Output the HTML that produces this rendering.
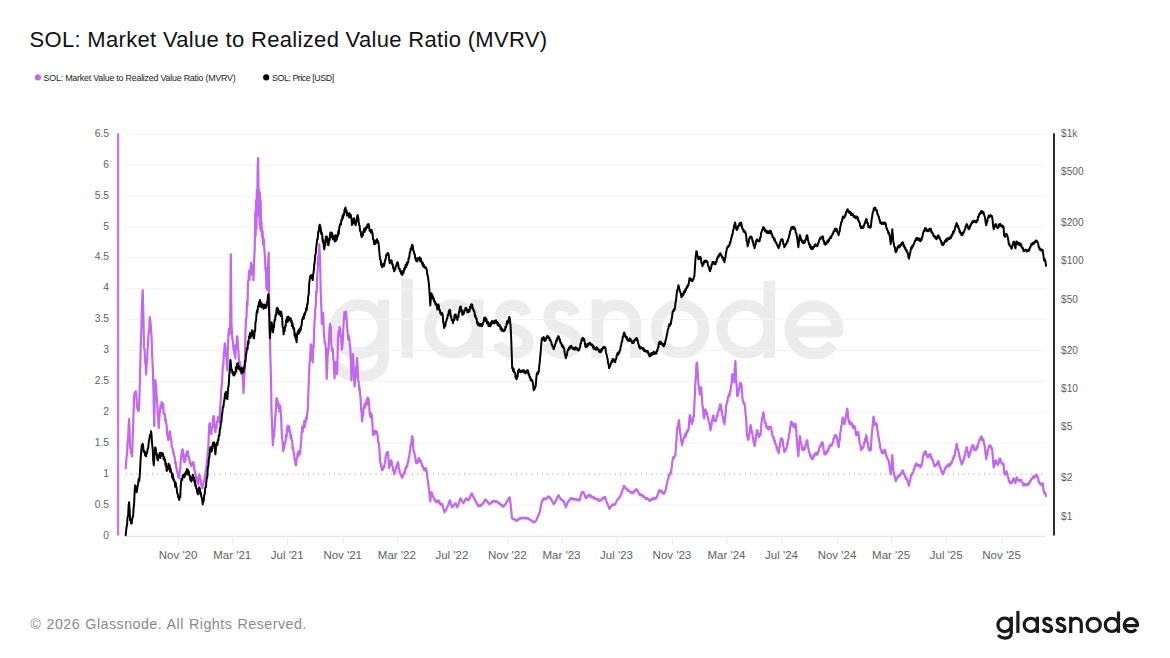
<!DOCTYPE html>
<html><head><meta charset="utf-8"><title>SOL: MVRV</title>
<style>html,body{margin:0;padding:0;background:#fff;}body{width:1170px;height:658px;overflow:hidden;position:relative;font-family:"Liberation Sans",sans-serif;}
svg{position:absolute;left:0;top:0;}text{font-family:"Liberation Sans",sans-serif;}
.t{position:absolute;white-space:nowrap;line-height:1;}
</style></head><body>
<svg width="1170" height="658" viewBox="0 0 1170 658">
<rect width="1170" height="658" fill="#ffffff"/>
<defs><g id="lg" fill="none" stroke-width="3.2" stroke-linecap="butt" stroke-linejoin="round">
<circle cx="1004.6" cy="624.9" r="6.7"/>
<path d="M1011.3 616.7 V632.6 C1011.3 636.6 1008.6 638.1 1004.9 638.1 C1001.9 638.1 999.6 637 998.3 635.0"/>
<path d="M1017.9 610.9 V632.9"/>
<circle cx="1030.8" cy="624.9" r="6.6"/>
<path d="M1037.4 616.7 V632.9"/>
<path id="ls" d="M1051.0 620.9 C1050.4 619.2 1049 618.3 1047.3 618.3 C1045.2 618.3 1043.9 619.6 1043.9 621.3 C1043.9 623.3 1045.4 624.1 1047.5 624.8 C1049.8 625.5 1051.5 626.4 1051.5 628.4 C1051.5 630.3 1049.8 631.5 1047.5 631.5 C1045.4 631.5 1043.8 630.5 1043.2 628.8"/>
<use href="#ls" x="13.4"/>
<path d="M1070.7 616.7 V632.9 M1070.7 623.8 C1070.7 620.4 1073 618.3 1076 618.3 C1079 618.3 1081.3 620.4 1081.3 623.8 V632.9"/>
<circle cx="1093.7" cy="624.9" r="6.6"/>
<circle cx="1111.9" cy="624.9" r="6.6"/>
<path d="M1118.5 611.5 V632.9"/>
<path d="M1124.6 625.6 H1137.5 A6.6 6.6 0 1 0 1136.1 629.2"/>
</g></defs>
<use href="#lg" stroke="#ececec" transform="translate(-3257.24 -1920.54) scale(3.6)"/>
<line x1="125.5" x2="1045.5" y1="505.0" y2="505.0" stroke="#f0f2f5" stroke-width="1"/>
<line x1="125.5" x2="1045.5" y1="443.2" y2="443.2" stroke="#f0f2f5" stroke-width="1"/>
<line x1="125.5" x2="1045.5" y1="412.3" y2="412.3" stroke="#f0f2f5" stroke-width="1"/>
<line x1="125.5" x2="1045.5" y1="381.4" y2="381.4" stroke="#f0f2f5" stroke-width="1"/>
<line x1="125.5" x2="1045.5" y1="350.5" y2="350.5" stroke="#f0f2f5" stroke-width="1"/>
<line x1="125.5" x2="1045.5" y1="319.6" y2="319.6" stroke="#f0f2f5" stroke-width="1"/>
<line x1="125.5" x2="1045.5" y1="288.7" y2="288.7" stroke="#f0f2f5" stroke-width="1"/>
<line x1="125.5" x2="1045.5" y1="257.8" y2="257.8" stroke="#f0f2f5" stroke-width="1"/>
<line x1="125.5" x2="1045.5" y1="226.9" y2="226.9" stroke="#f0f2f5" stroke-width="1"/>
<line x1="125.5" x2="1045.5" y1="196.0" y2="196.0" stroke="#f0f2f5" stroke-width="1"/>
<line x1="125.5" x2="1045.5" y1="165.1" y2="165.1" stroke="#f0f2f5" stroke-width="1"/>
<line x1="125.5" x2="1045.5" y1="134.2" y2="134.2" stroke="#f0f2f5" stroke-width="1"/>
<line x1="126" x2="1045.5" y1="474.1" y2="474.1" stroke="#909090" stroke-width="1" stroke-dasharray="1 4.2"/>
<line x1="125.5" x2="1045.5" y1="536.4" y2="536.4" stroke="#e3e6ee" stroke-width="1.4"/>
<line x1="178.6" x2="178.6" y1="536.2" y2="544.4" stroke="#e8ebf1" stroke-width="1"/>
<text x="178.1" y="559" font-size="11.5" fill="#5f5f5f" text-anchor="middle">Nov '20</text>
<line x1="232.7" x2="232.7" y1="536.2" y2="544.4" stroke="#e8ebf1" stroke-width="1"/>
<text x="232.2" y="559" font-size="11.5" fill="#5f5f5f" text-anchor="middle">Mar '21</text>
<line x1="287.7" x2="287.7" y1="536.2" y2="544.4" stroke="#e8ebf1" stroke-width="1"/>
<text x="287.2" y="559" font-size="11.5" fill="#5f5f5f" text-anchor="middle">Jul '21</text>
<line x1="343.2" x2="343.2" y1="536.2" y2="544.4" stroke="#e8ebf1" stroke-width="1"/>
<text x="342.7" y="559" font-size="11.5" fill="#5f5f5f" text-anchor="middle">Nov '21</text>
<line x1="397.3" x2="397.3" y1="536.2" y2="544.4" stroke="#e8ebf1" stroke-width="1"/>
<text x="396.8" y="559" font-size="11.5" fill="#5f5f5f" text-anchor="middle">Mar '22</text>
<line x1="452.4" x2="452.4" y1="536.2" y2="544.4" stroke="#e8ebf1" stroke-width="1"/>
<text x="451.9" y="559" font-size="11.5" fill="#5f5f5f" text-anchor="middle">Jul '22</text>
<line x1="507.8" x2="507.8" y1="536.2" y2="544.4" stroke="#e8ebf1" stroke-width="1"/>
<text x="507.3" y="559" font-size="11.5" fill="#5f5f5f" text-anchor="middle">Nov '22</text>
<line x1="562.0" x2="562.0" y1="536.2" y2="544.4" stroke="#e8ebf1" stroke-width="1"/>
<text x="561.5" y="559" font-size="11.5" fill="#5f5f5f" text-anchor="middle">Mar '23</text>
<line x1="617.0" x2="617.0" y1="536.2" y2="544.4" stroke="#e8ebf1" stroke-width="1"/>
<text x="616.5" y="559" font-size="11.5" fill="#5f5f5f" text-anchor="middle">Jul '23</text>
<line x1="672.4" x2="672.4" y1="536.2" y2="544.4" stroke="#e8ebf1" stroke-width="1"/>
<text x="671.9" y="559" font-size="11.5" fill="#5f5f5f" text-anchor="middle">Nov '23</text>
<line x1="727.0" x2="727.0" y1="536.2" y2="544.4" stroke="#e8ebf1" stroke-width="1"/>
<text x="726.5" y="559" font-size="11.5" fill="#5f5f5f" text-anchor="middle">Mar '24</text>
<line x1="782.0" x2="782.0" y1="536.2" y2="544.4" stroke="#e8ebf1" stroke-width="1"/>
<text x="781.5" y="559" font-size="11.5" fill="#5f5f5f" text-anchor="middle">Jul '24</text>
<line x1="837.5" x2="837.5" y1="536.2" y2="544.4" stroke="#e8ebf1" stroke-width="1"/>
<text x="837.0" y="559" font-size="11.5" fill="#5f5f5f" text-anchor="middle">Nov '24</text>
<line x1="891.6" x2="891.6" y1="536.2" y2="544.4" stroke="#e8ebf1" stroke-width="1"/>
<text x="891.1" y="559" font-size="11.5" fill="#5f5f5f" text-anchor="middle">Mar '25</text>
<line x1="946.7" x2="946.7" y1="536.2" y2="544.4" stroke="#e8ebf1" stroke-width="1"/>
<text x="946.2" y="559" font-size="11.5" fill="#5f5f5f" text-anchor="middle">Jul '25</text>
<line x1="1002.1" x2="1002.1" y1="536.2" y2="544.4" stroke="#e8ebf1" stroke-width="1"/>
<text x="1001.6" y="559" font-size="11.5" fill="#5f5f5f" text-anchor="middle">Nov '25</text>
<text x="109" y="539.0" font-size="10.3" fill="#5f5f5f" text-anchor="end">0</text>
<text x="109" y="508.1" font-size="10.3" fill="#5f5f5f" text-anchor="end">0.5</text>
<text x="109" y="477.1" font-size="10.3" fill="#5f5f5f" text-anchor="end">1</text>
<text x="109" y="446.1" font-size="10.3" fill="#5f5f5f" text-anchor="end">1.5</text>
<text x="109" y="415.2" font-size="10.3" fill="#5f5f5f" text-anchor="end">2</text>
<text x="109" y="384.2" font-size="10.3" fill="#5f5f5f" text-anchor="end">2.5</text>
<text x="109" y="353.3" font-size="10.3" fill="#5f5f5f" text-anchor="end">3</text>
<text x="109" y="322.4" font-size="10.3" fill="#5f5f5f" text-anchor="end">3.5</text>
<text x="109" y="291.4" font-size="10.3" fill="#5f5f5f" text-anchor="end">4</text>
<text x="109" y="260.4" font-size="10.3" fill="#5f5f5f" text-anchor="end">4.5</text>
<text x="109" y="229.5" font-size="10.3" fill="#5f5f5f" text-anchor="end">5</text>
<text x="109" y="198.5" font-size="10.3" fill="#5f5f5f" text-anchor="end">5.5</text>
<text x="109" y="167.6" font-size="10.3" fill="#5f5f5f" text-anchor="end">6</text>
<text x="109" y="136.7" font-size="10.3" fill="#5f5f5f" text-anchor="end">6.5</text>
<text x="1061" y="136.8" font-size="10.2" fill="#5f5f5f">$1k</text>
<text x="1061" y="175.2" font-size="10.2" fill="#5f5f5f">$500</text>
<text x="1061" y="225.9" font-size="10.2" fill="#5f5f5f">$200</text>
<text x="1061" y="264.3" font-size="10.2" fill="#5f5f5f">$100</text>
<text x="1061" y="302.7" font-size="10.2" fill="#5f5f5f">$50</text>
<text x="1061" y="353.5" font-size="10.2" fill="#5f5f5f">$20</text>
<text x="1061" y="391.9" font-size="10.2" fill="#5f5f5f">$10</text>
<text x="1061" y="430.3" font-size="10.2" fill="#5f5f5f">$5</text>
<text x="1061" y="481.1" font-size="10.2" fill="#5f5f5f">$2</text>
<text x="1061" y="519.5" font-size="10.2" fill="#5f5f5f">$1</text>
<path d="M125.7 468.3 L126.4 459.0 L127.1 452.3 L127.6 442.9 L128.1 438.3 L128.6 426.4 L129.1 419.2 L129.6 431.5 L130.1 448.3 L130.6 448.8 L131.1 453.1 L131.6 452.6 L132.1 456.3 L132.6 440.4 L133.1 428.3 L133.6 409.9 L134.1 396.1 L134.6 392.9 L135.2 395.5 L135.7 391.1 L136.4 395.6 L137.1 408.1 L137.6 407.1 L138.1 410.9 L138.5 406.5 L139.0 410.1 L139.9 382.0 L140.6 350.1 L141.3 330.0 L142.0 304.8 L142.7 290.1 L143.4 315.2 L144.1 348.3 L144.6 348.8 L145.1 363.0 L145.6 362.8 L146.1 374.4 L146.6 364.4 L147.1 361.8 L147.5 350.2 L148.0 345.0 L148.6 332.5 L149.1 332.6 L149.7 317.2 L150.4 321.0 L151.1 330.3 L151.6 337.8 L152.1 354.4 L152.7 365.1 L153.3 384.0 L154.2 426.0 L154.7 400.6 L155.2 380.0 L155.9 384.7 L156.6 396.1 L157.2 402.8 L157.7 413.4 L158.2 418.6 L158.8 428.2 L159.5 415.1 L160.2 408.1 L160.7 404.6 L161.2 408.2 L161.6 402.0 L162.1 406.7 L162.6 403.1 L163.1 404.7 L163.7 414.0 L164.2 414.1 L164.7 413.5 L165.2 420.9 L165.7 419.0 L166.2 424.2 L166.7 425.8 L167.2 435.4 L167.7 433.5 L168.2 440.2 L168.7 435.6 L169.3 437.6 L169.8 431.2 L170.3 433.5 L170.8 439.9 L171.2 438.8 L171.7 446.0 L172.2 448.3 L172.7 448.5 L173.2 453.1 L173.7 452.2 L174.2 456.3 L174.7 456.8 L175.2 463.3 L175.7 462.1 L176.2 468.1 L176.7 467.9 L177.2 472.3 L177.7 472.4 L178.2 476.8 L178.7 475.7 L179.2 478.4 L179.7 471.0 L180.2 469.6 L180.7 460.3 L181.2 456.3 L181.9 450.7 L182.6 449.3 L183.2 452.8 L183.7 460.0 L184.3 462.3 L184.8 458.6 L185.3 461.2 L185.8 454.5 L186.3 456.2 L186.8 451.6 L187.3 451.3 L187.8 451.4 L188.3 456.5 L188.8 456.5 L189.3 460.3 L189.8 460.9 L190.3 464.1 L190.8 464.1 L191.3 466.3 L191.8 463.3 L192.3 465.1 L192.8 462.2 L193.3 462.3 L193.8 464.0 L194.3 470.4 L194.8 470.6 L195.3 474.3 L195.8 474.8 L196.3 479.0 L196.8 477.6 L197.3 482.6 L197.8 481.1 L198.3 484.4 L198.8 478.5 L199.3 474.3 L199.8 475.5 L200.3 480.0 L200.8 479.7 L201.3 485.4 L201.8 485.4 L202.3 488.4 L202.8 485.8 L203.3 485.1 L203.8 481.6 L204.3 480.4 L204.8 476.2 L205.3 475.8 L205.8 470.3 L206.3 468.3 L206.8 462.7 L207.3 459.8 L207.8 451.8 L208.3 448.3 L208.8 434.0 L209.3 424.2 L209.8 423.1 L210.3 432.0 L210.8 429.4 L211.3 434.2 L211.8 427.1 L212.4 428.0 L212.9 419.5 L213.4 416.1 L213.9 416.5 L214.4 427.3 L214.9 424.9 L215.4 432.2 L215.9 426.1 L216.4 428.2 L217.0 421.1 L217.5 421.5 L218.0 417.2 L218.7 416.8 L219.4 422.2 L220.1 408.9 L220.8 398.1 L221.3 388.6 L221.9 384.2 L222.4 374.0 L222.9 365.7 L223.4 364.7 L223.8 353.8 L224.3 351.0 L224.8 343.3 L225.3 346.4 L225.8 356.2 L226.4 356.4 L226.9 366.5 L227.4 370.4 L227.9 347.1 L228.4 335.0 L229.0 328.5 L229.5 334.4 L230.1 330.3 L230.8 254.4 L231.5 325.0 L232.4 340.0 L232.9 340.2 L233.4 349.4 L233.9 345.9 L234.4 354.4 L234.9 349.9 L235.4 358.4 L235.9 344.8 L236.5 347.6 L237.0 336.3 L237.5 337.5 L238.0 348.8 L238.4 349.9 L238.9 360.3 L239.4 362.4 L239.9 361.8 L240.4 371.4 L240.9 366.3 L241.5 371.9 L242.0 367.0 L242.5 374.4 L243.0 380.4 L243.5 393.1 L244.1 380.7 L244.6 372.0 L245.5 332.3 L246.0 318.9 L246.5 316.9 L247.0 301.2 L247.5 305.5 L248.0 281.3 L248.5 280.1 L249.0 271.3 L249.5 280.0 L250.0 269.4 L250.6 275.5 L251.1 262.6 L251.6 274.0 L252.1 266.1 L252.8 265.6 L253.5 280.1 L254.1 260.0 L254.7 249.0 L255.3 212.0 L255.6 236.0 L256.0 200.0 L256.4 229.0 L256.8 190.0 L257.2 216.0 L257.6 170.0 L258.1 158.1 L258.5 186.0 L258.9 216.0 L259.2 190.2 L259.6 225.0 L259.9 193.0 L260.3 229.0 L260.7 201.0 L261.0 231.0 L261.5 222.0 L262.0 237.0 L262.6 231.0 L263.2 245.0 L263.8 239.0 L264.4 250.0 L264.9 256.1 L265.5 270.1 L266.0 267.5 L266.5 288.7 L267.0 277.5 L267.5 290.1 L268.1 263.7 L268.7 252.7 L269.3 310.2 L269.8 326.3 L270.3 354.4 L271.0 378.4 L271.5 411.1 L272.1 425.3 L272.8 445.3 L273.4 438.2 L274.0 436.1 L274.6 428.2 L275.1 418.7 L275.6 414.3 L276.1 404.4 L276.6 398.1 L277.1 398.5 L277.6 405.1 L278.1 402.2 L278.6 408.1 L279.1 404.4 L279.6 411.6 L280.1 405.5 L280.6 410.1 L281.1 415.5 L281.7 432.4 L282.2 438.2 L282.7 443.1 L283.2 451.3 L283.7 447.9 L284.2 448.1 L284.6 443.4 L285.1 443.7 L285.6 440.2 L286.1 434.5 L286.6 436.9 L287.1 427.3 L287.6 427.2 L288.1 425.7 L288.6 431.4 L289.1 426.4 L289.6 430.2 L290.1 431.6 L290.6 437.8 L291.1 434.6 L291.6 440.2 L292.1 440.6 L292.6 448.7 L293.1 447.5 L293.6 452.3 L294.1 453.8 L294.6 459.7 L295.0 458.8 L295.5 464.8 L296.0 465.3 L296.5 458.8 L297.1 458.8 L297.6 453.3 L298.1 451.8 L298.6 456.0 L299.2 451.1 L299.7 454.4 L300.2 453.3 L300.7 445.2 L301.2 440.4 L301.7 432.2 L302.2 427.1 L302.7 431.8 L303.2 425.6 L303.7 425.2 L304.2 421.2 L304.7 427.5 L305.2 420.1 L305.7 422.2 L306.2 417.4 L306.7 419.3 L307.2 412.4 L307.7 411.1 L308.3 394.3 L308.9 380.0 L309.5 362.5 L310.1 360.7 L310.7 344.3 L311.2 344.7 L311.7 359.2 L312.2 354.4 L312.7 362.4 L313.2 346.2 L313.7 347.1 L314.2 327.9 L314.7 320.2 L315.2 308.5 L315.7 307.2 L316.2 291.6 L316.7 292.6 L317.2 274.6 L317.7 270.1 L318.2 256.3 L318.8 256.3 L319.3 244.4 L320.0 258.7 L320.7 290.1 L321.2 303.0 L321.8 324.0 L322.5 314.0 L323.1 312.8 L323.9 334.0 L324.8 343.0 L325.4 343.1 L326.0 352.0 L326.7 379.0 L327.6 358.0 L328.1 348.3 L328.6 350.0 L329.5 328.2 L330.1 323.8 L330.8 327.4 L331.2 343.0 L332.1 351.0 L332.7 348.7 L333.3 358.0 L333.9 364.6 L334.5 378.4 L335.0 366.5 L335.5 362.0 L336.3 368.0 L337.0 374.0 L337.6 356.0 L338.0 338.5 L338.5 331.7 L339.0 335.4 L339.5 327.0 L340.0 328.6 L340.6 334.0 L341.2 339.2 L341.9 349.6 L342.7 342.7 L343.2 330.1 L343.8 321.0 L344.3 312.2 L344.8 318.8 L345.3 313.5 L346.0 311.6 L346.6 318.8 L347.4 330.0 L348.3 340.0 L349.0 336.1 L349.6 342.7 L350.4 349.6 L350.9 362.0 L351.4 380.3 L351.9 369.5 L352.5 365.8 L353.0 354.2 L353.5 361.9 L354.1 379.1 L354.6 386.3 L355.1 379.3 L355.6 377.9 L356.1 367.6 L356.6 365.9 L357.1 358.2 L357.6 365.7 L358.1 380.3 L358.6 381.3 L359.1 389.9 L359.6 387.7 L360.1 394.3 L360.6 397.8 L361.1 409.8 L361.6 412.4 L362.1 421.4 L362.6 415.7 L363.1 415.9 L363.6 407.6 L364.1 406.4 L364.6 403.9 L365.1 407.6 L365.6 402.8 L366.1 404.4 L366.6 399.9 L367.1 404.7 L367.5 397.6 L368.0 402.9 L368.5 398.3 L369.0 402.8 L369.6 412.6 L370.1 416.4 L370.6 412.7 L371.2 417.8 L371.7 414.4 L372.4 423.7 L373.1 435.0 L373.6 433.1 L374.1 434.6 L374.6 431.3 L375.1 431.1 L375.6 430.7 L376.1 433.4 L376.6 431.3 L377.1 434.1 L377.6 434.9 L378.1 442.4 L378.6 442.2 L379.1 446.1 L379.6 452.5 L380.1 462.2 L380.6 462.8 L381.1 466.8 L381.6 466.6 L382.1 470.2 L382.6 467.8 L383.1 469.4 L383.7 466.2 L384.2 467.2 L384.7 463.2 L385.2 462.4 L385.7 456.2 L386.2 455.2 L386.7 452.3 L387.3 453.9 L387.8 452.1 L388.5 459.0 L389.2 468.2 L389.7 465.0 L390.2 465.1 L390.7 461.4 L391.2 460.2 L391.7 461.6 L392.2 466.3 L392.7 466.7 L393.2 470.7 L393.7 470.9 L394.2 474.2 L394.7 472.3 L395.2 472.0 L395.7 468.5 L396.2 468.2 L396.7 465.1 L397.3 464.8 L397.8 462.2 L398.3 463.1 L398.8 469.2 L399.3 468.8 L399.8 473.2 L400.4 473.5 L400.9 475.5 L401.5 475.2 L402.0 477.7 L402.6 477.2 L403.1 475.1 L403.6 475.0 L404.2 472.1 L404.7 473.2 L405.2 470.2 L405.7 467.4 L406.2 468.3 L406.7 465.5 L407.2 466.6 L407.7 462.3 L408.2 462.2 L408.7 457.6 L409.2 456.8 L409.7 452.5 L410.2 450.1 L410.7 444.8 L411.2 444.5 L411.7 438.8 L412.2 436.1 L412.8 439.1 L413.3 448.4 L413.9 452.1 L414.4 452.5 L414.9 457.2 L415.3 457.0 L415.8 461.6 L416.3 463.2 L416.8 460.8 L417.3 463.0 L417.8 460.2 L418.3 461.8 L418.8 458.0 L419.3 459.2 L419.8 459.3 L420.3 461.9 L420.8 461.0 L421.3 463.2 L421.8 463.6 L422.3 466.1 L422.8 466.0 L423.3 468.4 L423.8 468.3 L424.3 470.2 L424.8 469.1 L425.3 470.5 L425.8 468.0 L426.3 469.2 L426.8 472.2 L427.3 477.7 L427.8 480.0 L428.3 484.3 L428.8 487.9 L429.3 493.1 L429.8 496.6 L430.3 501.3 L430.8 496.5 L431.3 492.3 L431.8 492.7 L432.3 495.5 L432.8 495.6 L433.3 497.3 L433.8 497.5 L434.3 499.9 L434.8 499.5 L435.3 501.4 L435.8 501.0 L436.3 502.3 L436.8 501.2 L437.3 502.1 L437.8 500.3 L438.3 500.3 L438.8 500.7 L439.3 503.0 L439.8 502.5 L440.3 504.3 L440.8 503.9 L441.3 505.0 L441.8 503.7 L442.3 504.3 L442.8 505.8 L443.4 508.7 L443.9 510.0 L444.4 512.4 L444.9 511.4 L445.4 510.9 L445.9 509.6 L446.4 509.6 L446.9 507.8 L447.4 507.3 L447.9 505.6 L448.4 504.8 L448.8 502.3 L449.3 502.5 L449.8 500.3 L450.4 501.6 L450.9 504.1 L451.4 505.3 L452.0 507.3 L452.5 506.5 L453.0 506.5 L453.5 505.4 L453.9 505.3 L454.4 504.2 L454.9 504.4 L455.4 503.3 L455.9 503.7 L456.4 505.7 L456.9 506.1 L457.4 507.3 L457.9 505.3 L458.4 504.6 L458.9 502.5 L459.4 501.5 L459.9 499.5 L460.4 498.3 L460.9 498.7 L461.4 500.4 L461.9 500.5 L462.4 502.0 L462.9 502.3 L463.4 503.3 L463.9 502.0 L464.4 501.5 L465.0 499.9 L465.5 499.5 L466.0 498.3 L466.5 498.5 L467.0 499.4 L467.4 499.2 L467.9 500.3 L468.4 500.3 L468.9 498.9 L469.4 498.9 L469.9 496.8 L470.3 496.9 L470.8 494.6 L471.3 494.7 L471.8 493.3 L472.4 494.2 L473.0 496.5 L473.5 496.8 L474.1 498.3 L474.6 498.7 L475.1 500.6 L475.6 500.8 L476.1 502.4 L476.5 502.2 L477.0 504.1 L477.5 504.1 L478.0 505.9 L478.5 506.3 L479.0 505.9 L479.5 506.1 L480.0 505.2 L480.5 505.8 L481.0 504.6 L481.5 505.3 L482.0 504.2 L482.5 504.3 L483.0 502.9 L483.5 503.1 L484.0 501.3 L484.5 501.2 L485.0 500.0 L485.5 499.3 L486.0 499.7 L486.5 500.9 L487.0 501.0 L487.5 502.3 L488.0 502.0 L488.5 503.5 L489.0 503.3 L489.5 504.3 L490.0 503.4 L490.5 503.7 L491.0 502.6 L491.5 502.8 L492.0 501.3 L492.5 501.3 L493.0 500.9 L493.5 501.7 L494.0 500.8 L494.5 501.5 L495.0 500.8 L495.5 501.6 L496.0 501.1 L496.5 501.3 L497.0 501.4 L497.5 502.5 L498.0 502.2 L498.5 503.3 L499.0 502.6 L499.5 503.9 L500.0 503.6 L500.5 504.3 L501.0 504.4 L501.5 505.5 L502.1 505.0 L502.6 506.3 L503.1 505.9 L503.6 506.7 L504.1 505.8 L504.6 505.4 L505.1 504.3 L505.6 504.2 L506.1 502.8 L506.6 502.3 L507.1 501.0 L507.6 500.8 L508.1 499.6 L508.6 499.3 L509.1 497.6 L509.6 497.3 L510.1 500.3 L510.6 504.3 L511.3 511.0 L512.0 518.4 L512.5 518.4 L513.0 519.1 L513.6 518.7 L514.1 519.5 L514.6 519.4 L515.1 519.5 L515.6 520.4 L516.0 520.0 L516.5 521.0 L517.0 520.8 L517.5 519.8 L518.0 520.0 L518.6 519.1 L519.1 519.3 L519.6 518.4 L520.1 517.9 L520.6 518.6 L521.1 518.0 L521.6 518.4 L522.1 517.7 L522.6 518.3 L523.1 517.7 L523.6 518.0 L524.1 517.9 L524.6 518.4 L525.1 517.7 L525.6 518.4 L526.1 517.8 L526.6 518.6 L527.1 517.9 L527.6 518.4 L528.1 518.3 L528.6 519.1 L529.1 518.7 L529.6 519.8 L530.1 519.6 L530.6 520.0 L531.1 520.2 L531.7 521.0 L532.2 520.7 L532.7 521.6 L533.2 521.5 L533.8 522.3 L534.3 522.4 L534.8 521.6 L535.3 521.6 L535.7 520.5 L536.2 520.4 L536.7 519.4 L537.2 517.8 L537.7 517.2 L538.2 515.4 L538.7 515.1 L539.2 513.1 L539.7 512.4 L540.2 509.6 L540.7 507.6 L541.2 504.5 L541.7 502.3 L542.2 500.7 L542.7 500.7 L543.2 499.0 L543.7 498.3 L544.2 498.2 L544.7 499.1 L545.2 498.9 L545.7 499.3 L546.2 498.5 L546.7 498.7 L547.3 497.2 L547.8 497.6 L548.3 496.3 L548.8 496.4 L549.3 497.4 L549.7 497.1 L550.2 498.2 L550.7 498.3 L551.2 499.0 L551.7 500.9 L552.2 500.7 L552.7 502.8 L553.2 502.9 L553.7 504.3 L554.2 503.0 L554.7 503.4 L555.2 501.6 L555.7 501.3 L556.2 499.6 L556.7 499.1 L557.3 497.2 L557.8 496.9 L558.3 495.3 L558.8 495.5 L559.3 497.4 L559.8 497.4 L560.3 498.7 L560.8 499.3 L561.3 499.0 L561.8 500.2 L562.3 499.9 L562.8 501.0 L563.3 500.7 L563.8 501.3 L564.3 502.3 L564.8 504.9 L565.3 505.6 L565.8 507.3 L566.3 505.7 L566.8 505.1 L567.3 503.2 L567.8 502.3 L568.3 501.3 L568.8 501.2 L569.3 500.1 L569.8 499.9 L570.3 498.3 L570.8 498.3 L571.3 498.1 L571.9 499.1 L572.5 498.4 L573.0 499.3 L573.5 498.6 L574.0 499.7 L574.5 499.1 L575.0 499.6 L575.5 499.1 L576.0 499.3 L576.5 499.1 L577.0 499.8 L577.5 499.4 L578.1 500.2 L578.6 499.6 L579.1 500.7 L579.6 500.3 L580.1 497.9 L580.6 496.9 L581.1 494.2 L581.6 492.7 L582.1 492.1 L582.6 492.9 L583.1 492.0 L583.6 492.3 L584.1 493.6 L584.7 495.6 L585.2 496.1 L585.7 498.3 L586.2 497.5 L586.7 497.7 L587.2 496.2 L587.6 496.9 L588.1 495.4 L588.6 495.5 L589.1 494.7 L589.6 494.8 L590.1 496.0 L590.6 495.6 L591.1 497.1 L591.6 496.2 L592.1 497.3 L592.6 496.8 L593.1 497.8 L593.6 497.6 L594.1 498.5 L594.6 497.5 L595.1 498.8 L595.6 498.1 L596.1 498.7 L596.6 498.8 L597.1 499.6 L597.6 498.9 L598.1 500.4 L598.6 499.5 L599.1 501.0 L599.6 500.3 L600.1 500.9 L600.6 500.3 L601.1 500.3 L601.6 499.2 L602.1 499.7 L602.6 498.1 L603.1 498.3 L603.6 497.5 L604.1 498.3 L604.6 497.0 L605.1 497.3 L605.6 498.4 L606.1 500.8 L606.6 501.7 L607.1 503.4 L607.6 504.0 L608.1 505.8 L608.5 506.1 L609.0 508.1 L609.5 508.8 L610.0 507.8 L610.5 507.4 L611.1 506.2 L611.6 506.0 L612.1 504.8 L612.6 504.3 L613.1 504.9 L613.7 504.4 L614.2 504.9 L614.7 504.1 L615.2 504.4 L615.7 503.0 L616.2 502.4 L616.7 500.6 L617.2 499.9 L617.7 499.3 L618.2 499.4 L618.7 498.3 L619.2 498.3 L619.7 496.6 L620.2 496.8 L620.7 494.6 L621.2 494.3 L621.7 492.1 L622.2 491.3 L622.8 488.9 L623.3 488.4 L623.8 485.9 L624.3 485.8 L624.8 487.4 L625.2 487.3 L625.7 488.7 L626.2 488.7 L626.7 488.5 L627.2 490.0 L627.7 489.6 L628.2 491.0 L628.7 490.1 L629.2 491.3 L629.7 491.3 L630.2 492.1 L630.7 491.8 L631.1 492.9 L631.6 492.1 L632.1 493.3 L632.6 493.3 L633.1 492.0 L633.6 492.7 L634.2 491.0 L634.7 491.2 L635.2 490.3 L635.7 489.4 L636.2 490.5 L636.7 489.3 L637.2 489.9 L637.7 490.7 L638.2 492.4 L638.7 492.6 L639.2 494.3 L639.7 494.1 L640.2 495.3 L640.7 494.3 L641.2 495.3 L641.7 494.8 L642.2 495.3 L642.7 495.4 L643.2 496.8 L643.8 496.1 L644.3 497.5 L644.8 497.4 L645.3 498.3 L645.8 498.0 L646.3 499.0 L646.8 498.1 L647.3 498.3 L647.8 498.6 L648.3 499.5 L648.9 499.5 L649.4 501.0 L649.9 500.9 L650.4 499.9 L650.9 500.5 L651.3 498.9 L651.8 499.8 L652.3 498.7 L652.8 498.3 L653.3 498.9 L653.8 497.9 L654.3 499.0 L654.8 498.3 L655.3 498.9 L655.8 498.0 L656.3 498.3 L656.8 496.6 L657.3 496.0 L657.8 494.0 L658.3 493.2 L658.8 491.3 L659.3 490.3 L659.8 490.1 L660.3 491.6 L660.8 490.8 L661.3 491.3 L661.8 491.0 L662.3 492.7 L662.9 492.5 L663.4 494.0 L663.9 493.9 L664.4 492.1 L664.9 492.1 L665.4 490.2 L665.9 489.3 L666.6 485.3 L667.3 482.3 L667.8 479.4 L668.4 478.6 L668.9 475.3 L669.4 474.4 L669.9 474.9 L670.4 472.8 L670.9 473.3 L671.4 469.5 L671.8 466.9 L672.3 461.6 L672.8 459.2 L673.3 457.2 L673.8 458.0 L674.4 456.4 L674.9 456.4 L675.4 455.2 L675.9 445.7 L676.5 439.9 L677.0 431.1 L677.5 426.8 L678.0 427.4 L678.5 421.8 L679.0 420.1 L679.5 425.7 L680.0 433.1 L680.5 434.4 L681.0 440.4 L681.5 441.4 L682.0 445.2 L682.5 441.9 L683.0 442.0 L683.5 438.3 L684.0 437.1 L684.5 436.0 L685.0 437.4 L685.4 433.6 L685.9 436.0 L686.4 434.1 L686.9 431.1 L687.4 432.2 L687.8 429.7 L688.3 430.5 L688.8 428.1 L689.3 419.6 L689.8 415.1 L690.3 415.3 L690.8 420.7 L691.3 421.0 L691.8 424.1 L692.3 421.2 L692.8 421.9 L693.3 416.9 L693.8 417.1 L694.3 405.8 L694.8 396.3 L695.3 383.3 L695.9 377.2 L696.4 364.2 L697.0 362.8 L697.7 371.0 L698.4 384.3 L699.1 387.1 L699.8 394.3 L700.4 389.0 L701.0 387.3 L701.7 394.6 L702.4 404.4 L703.0 407.9 L703.5 414.9 L704.1 418.4 L704.8 412.1 L705.5 409.4 L706.0 410.5 L706.5 413.8 L707.0 412.9 L707.5 416.4 L708.0 417.5 L708.6 421.0 L709.1 422.4 L709.8 425.9 L710.5 430.4 L711.0 426.3 L711.5 425.8 L711.9 420.0 L712.4 421.1 L712.9 416.4 L713.4 415.5 L713.9 419.8 L714.4 419.5 L714.9 421.4 L715.4 419.7 L716.0 420.7 L716.5 418.4 L717.0 415.0 L717.5 416.2 L718.0 412.2 L718.5 411.4 L719.0 408.4 L719.5 409.5 L720.0 404.4 L720.5 404.4 L721.0 405.3 L721.5 411.9 L722.0 411.0 L722.5 415.4 L723.0 416.9 L723.5 421.7 L724.0 421.2 L724.5 424.4 L725.0 418.0 L725.5 415.6 L726.0 407.6 L726.5 404.4 L727.0 401.4 L727.5 401.4 L728.0 397.3 L728.5 396.3 L729.0 394.1 L729.5 396.1 L730.0 390.8 L730.5 391.3 L731.0 385.7 L731.5 384.3 L732.1 375.7 L732.6 374.2 L733.3 376.5 L734.0 382.3 L734.7 370.5 L735.4 361.2 L736.2 380.3 L736.7 386.0 L737.2 396.3 L737.7 392.4 L738.2 394.9 L738.6 389.4 L739.1 389.9 L739.6 386.3 L740.1 383.0 L740.7 386.7 L741.2 383.3 L741.9 389.4 L742.6 400.3 L743.1 400.6 L743.6 403.5 L744.1 402.6 L744.6 404.4 L745.1 408.2 L745.7 415.9 L746.2 418.4 L747.0 436.1 L747.5 435.9 L748.1 439.8 L748.6 439.1 L749.1 434.6 L749.6 433.8 L750.1 427.5 L750.6 425.1 L751.1 427.0 L751.6 432.2 L752.1 431.6 L752.6 436.1 L753.1 438.0 L753.6 442.3 L754.1 442.5 L754.6 446.2 L755.1 442.3 L755.6 440.7 L756.0 435.9 L756.5 434.1 L757.0 430.1 L757.5 431.0 L758.0 434.9 L758.5 434.0 L759.0 437.1 L759.5 435.4 L760.1 435.6 L760.6 434.1 L761.1 427.1 L761.6 422.1 L762.2 417.3 L762.7 416.5 L763.3 412.4 L763.9 414.9 L764.5 420.3 L765.1 423.0 L765.6 422.5 L766.1 426.7 L766.7 426.0 L767.2 428.4 L767.7 429.0 L768.2 427.6 L768.7 429.6 L769.2 426.6 L769.7 428.3 L770.2 426.6 L770.7 427.0 L771.2 427.5 L771.7 432.1 L772.1 432.2 L772.6 436.0 L773.1 437.1 L773.6 436.8 L774.1 440.8 L774.7 440.2 L775.2 443.6 L775.7 444.2 L776.2 444.8 L776.7 448.6 L777.2 447.1 L777.7 451.0 L778.2 451.1 L778.7 453.2 L779.2 448.7 L779.7 447.3 L780.2 443.0 L780.7 440.1 L781.2 438.2 L781.8 440.4 L782.3 439.1 L782.8 440.9 L783.3 446.6 L783.8 447.5 L784.3 452.2 L784.8 450.3 L785.3 450.8 L785.7 448.8 L786.2 449.2 L786.7 447.2 L787.2 443.7 L787.7 444.2 L788.2 439.8 L788.7 438.1 L789.2 433.5 L789.7 432.6 L790.1 427.1 L790.6 425.8 L791.1 421.8 L791.6 421.9 L792.2 425.2 L792.7 423.0 L793.3 426.6 L793.8 427.0 L794.3 425.3 L794.8 427.7 L795.3 423.6 L795.8 425.1 L796.3 431.9 L796.8 440.1 L797.3 444.9 L797.9 452.3 L798.4 456.2 L799.1 444.6 L799.8 436.1 L800.3 438.3 L800.9 443.1 L801.5 444.4 L802.0 449.2 L802.5 448.2 L803.0 450.3 L803.5 447.6 L804.0 449.9 L804.5 447.8 L805.0 448.2 L805.5 444.8 L806.0 444.9 L806.5 441.3 L807.0 440.2 L807.5 441.7 L808.0 447.6 L808.5 448.6 L809.0 452.2 L809.5 452.8 L810.0 455.3 L810.5 454.8 L811.0 457.6 L811.5 457.6 L812.0 459.2 L812.5 457.8 L813.0 458.7 L813.5 455.4 L814.1 456.3 L814.6 454.1 L815.1 454.2 L815.6 453.0 L816.1 454.6 L816.7 452.9 L817.2 454.7 L817.7 454.2 L818.2 451.4 L818.7 451.7 L819.2 447.8 L819.7 447.2 L820.3 445.4 L820.8 446.1 L821.4 443.1 L821.9 444.1 L822.5 442.2 L823.0 444.0 L823.5 449.1 L824.0 450.3 L824.5 454.2 L825.0 453.4 L825.5 454.5 L826.1 452.1 L826.6 453.2 L827.1 452.2 L827.6 449.8 L828.1 451.2 L828.6 447.8 L829.1 448.1 L829.6 445.4 L830.1 445.2 L830.6 444.7 L831.1 445.8 L831.6 444.3 L832.1 445.2 L832.6 442.9 L833.1 442.6 L833.5 438.7 L834.0 438.5 L834.5 436.2 L835.0 435.1 L835.6 437.3 L836.2 435.5 L836.7 437.2 L837.2 438.3 L837.7 443.3 L838.2 444.2 L838.7 447.2 L839.2 442.1 L839.7 440.1 L840.2 433.4 L840.7 431.1 L841.3 426.1 L841.9 424.3 L842.5 418.1 L843.0 417.5 L843.5 422.8 L844.1 420.8 L844.6 424.1 L845.1 420.2 L845.6 420.0 L846.2 413.4 L846.7 413.8 L847.2 408.5 L847.7 411.0 L848.3 418.4 L848.8 422.1 L849.3 420.6 L849.8 424.4 L850.2 422.1 L850.7 423.9 L851.2 423.1 L851.7 422.7 L852.2 426.3 L852.7 425.0 L853.2 428.1 L853.9 426.2 L854.6 426.1 L855.1 427.5 L855.7 432.8 L856.2 435.2 L856.7 433.3 L857.2 435.4 L857.7 432.1 L858.2 432.1 L858.7 435.0 L859.3 440.6 L859.8 443.2 L860.5 445.9 L861.2 450.2 L861.7 448.8 L862.2 448.8 L862.8 446.6 L863.3 447.7 L863.8 445.2 L864.3 441.9 L864.8 442.8 L865.2 438.5 L865.7 438.7 L866.2 435.2 L866.7 437.4 L867.2 441.9 L867.8 442.4 L868.3 447.2 L868.8 449.2 L869.3 448.0 L869.8 450.7 L870.3 448.9 L870.8 450.2 L871.5 438.6 L872.2 430.1 L872.9 422.7 L873.5 416.7 L874.1 418.8 L874.7 425.1 L875.2 423.0 L875.8 424.9 L876.3 423.1 L876.8 424.7 L877.3 430.5 L877.8 431.1 L878.3 436.2 L878.8 437.6 L879.3 442.3 L879.7 442.6 L880.2 447.5 L880.7 449.2 L881.2 449.9 L881.8 453.1 L882.3 453.2 L882.8 452.1 L883.3 453.1 L883.7 450.5 L884.2 451.6 L884.7 449.8 L885.2 450.2 L885.7 454.5 L886.2 454.3 L886.7 457.2 L887.2 457.5 L887.7 459.5 L888.2 459.8 L888.7 461.2 L889.2 464.0 L889.7 468.6 L890.2 470.4 L890.7 474.3 L891.2 467.2 L891.8 462.8 L892.3 455.2 L892.8 462.3 L893.3 470.3 L893.8 472.0 L894.3 475.5 L894.9 476.6 L895.4 479.4 L895.9 481.3 L896.4 479.5 L896.9 479.1 L897.4 477.0 L897.9 476.3 L898.4 475.6 L898.9 476.6 L899.3 475.0 L899.8 475.9 L900.3 475.3 L900.8 473.5 L901.3 474.0 L901.7 471.9 L902.2 472.4 L902.7 470.3 L903.2 471.3 L903.8 473.7 L904.3 474.4 L904.8 476.3 L905.3 476.3 L905.8 478.8 L906.4 477.8 L906.9 480.1 L907.4 480.3 L907.9 481.7 L908.5 484.3 L909.0 485.9 L909.6 482.0 L910.2 480.2 L910.8 476.3 L911.3 474.7 L911.8 475.1 L912.4 472.6 L912.9 473.4 L913.4 471.3 L913.9 468.8 L914.4 468.8 L915.0 465.6 L915.5 465.7 L916.0 463.8 L916.5 463.4 L917.0 465.4 L917.4 464.5 L917.9 465.9 L918.4 465.9 L918.9 464.9 L919.4 466.4 L919.9 465.3 L920.4 467.4 L920.9 465.8 L921.4 466.3 L921.9 463.0 L922.4 461.7 L922.9 457.1 L923.4 455.2 L923.9 453.1 L924.4 454.5 L924.9 451.6 L925.4 451.2 L925.9 452.0 L926.4 454.9 L926.9 455.3 L927.4 457.2 L927.9 455.4 L928.4 457.4 L929.0 454.5 L929.5 455.5 L930.0 454.6 L930.5 454.2 L931.0 457.6 L931.4 456.5 L931.9 459.4 L932.4 459.2 L932.9 460.2 L933.5 463.3 L934.0 464.1 L934.5 466.3 L935.0 465.5 L935.5 466.2 L936.0 464.9 L936.5 465.3 L937.0 462.9 L937.6 463.6 L938.1 461.2 L938.6 461.5 L939.1 465.1 L939.5 464.9 L940.0 467.7 L940.5 468.3 L941.0 468.8 L941.5 471.7 L941.9 471.2 L942.4 473.6 L942.9 474.3 L943.4 472.2 L943.9 472.9 L944.4 470.1 L944.9 469.3 L945.4 467.4 L945.9 468.0 L946.5 466.3 L947.0 466.6 L947.5 465.3 L948.0 464.3 L948.5 466.5 L949.1 464.3 L949.6 465.9 L950.1 465.3 L950.6 463.1 L951.1 463.9 L951.5 461.7 L952.0 462.5 L952.5 460.2 L953.0 458.0 L953.5 458.9 L953.9 455.5 L954.4 456.8 L954.9 454.2 L955.4 449.8 L956.0 448.7 L956.5 443.8 L957.0 444.6 L957.5 449.4 L958.0 449.2 L958.5 452.2 L959.0 453.1 L959.5 457.2 L960.0 457.6 L960.5 460.8 L961.0 461.3 L961.5 464.3 L962.0 462.7 L962.6 463.1 L963.1 460.2 L963.7 459.8 L964.2 458.2 L964.7 455.5 L965.2 455.2 L965.6 450.8 L966.1 450.0 L966.6 447.2 L967.1 448.8 L967.6 451.6 L968.0 452.1 L968.5 456.3 L969.0 457.2 L969.5 454.1 L970.0 454.4 L970.6 450.7 L971.1 450.3 L971.6 447.2 L972.3 445.4 L973.0 445.2 L973.5 445.5 L974.1 449.9 L974.6 450.2 L975.1 448.5 L975.6 450.2 L976.1 448.0 L976.6 449.2 L977.1 446.1 L977.6 447.6 L978.0 443.9 L978.5 443.5 L979.0 441.2 L979.5 439.5 L980.1 439.4 L980.6 437.8 L981.1 436.5 L981.6 439.9 L982.0 437.4 L982.5 440.4 L983.0 439.2 L983.5 440.0 L984.1 444.0 L984.6 445.2 L985.1 449.4 L985.7 455.0 L986.2 459.2 L986.7 455.5 L987.2 454.8 L987.7 451.0 L988.2 449.2 L988.9 446.3 L989.6 445.2 L990.1 445.4 L990.6 447.1 L991.0 446.3 L991.5 448.9 L992.0 448.2 L992.6 453.8 L993.1 461.6 L993.7 467.3 L994.2 464.3 L994.7 464.6 L995.2 460.8 L995.7 460.2 L996.2 460.5 L996.7 463.1 L997.2 463.3 L997.7 465.3 L998.2 462.9 L998.7 463.1 L999.2 459.6 L999.7 458.6 L1000.2 458.5 L1000.7 461.4 L1001.1 460.9 L1001.6 463.6 L1002.1 463.4 L1002.6 463.2 L1003.1 464.9 L1003.6 464.0 L1004.1 473.3 L1004.7 473.6 L1005.2 474.8 L1005.8 472.7 L1006.4 471.2 L1007.1 473.0 L1007.8 475.8 L1008.3 477.5 L1008.8 481.0 L1009.3 480.7 L1009.8 482.6 L1010.3 483.1 L1010.8 482.3 L1011.4 483.4 L1011.9 482.6 L1012.4 480.4 L1012.9 480.2 L1013.4 478.4 L1013.9 478.9 L1014.5 481.3 L1015.0 481.1 L1015.5 483.1 L1016.0 479.8 L1016.5 477.4 L1017.0 477.4 L1017.6 479.9 L1018.1 480.5 L1018.6 480.0 L1019.1 481.1 L1019.7 479.6 L1020.2 480.4 L1020.7 480.0 L1021.2 480.1 L1021.7 482.0 L1022.2 482.6 L1022.8 482.8 L1023.4 485.4 L1024.0 485.7 L1024.7 484.1 L1025.3 484.1 L1025.9 483.8 L1026.5 485.2 L1027.1 485.1 L1027.6 484.2 L1028.1 484.8 L1028.5 483.0 L1029.0 483.8 L1029.5 483.1 L1030.0 481.2 L1030.5 481.3 L1031.0 480.0 L1031.5 478.7 L1032.1 478.7 L1032.6 477.4 L1033.1 476.4 L1033.6 478.1 L1034.1 477.4 L1034.6 476.2 L1035.0 477.1 L1035.5 475.0 L1036.0 474.8 L1036.6 474.7 L1037.1 476.6 L1037.7 476.4 L1038.2 478.4 L1038.8 482.0 L1039.3 481.8 L1039.8 483.8 L1040.3 483.6 L1040.8 483.9 L1041.3 485.1 L1041.9 483.6 L1042.6 483.1 L1043.4 489.3 L1044.2 493.4 L1045.0 492.4 L1045.5 493.9 L1046.0 496.0" fill="none" stroke="#c366f0" stroke-width="2.2" stroke-linejoin="round" stroke-linecap="round"/>
<path d="M125.7 535.3 L126.4 528.0 L127.1 524.3 L127.6 516.8 L128.1 516.1 L128.6 505.9 L129.1 502.2 L129.6 509.4 L130.1 520.3 L130.6 519.2 L131.2 523.5 L131.7 523.3 L132.4 517.9 L133.1 516.3 L133.6 508.1 L134.1 504.2 L134.6 492.2 L135.1 485.2 L135.6 486.6 L136.2 491.3 L136.7 492.2 L137.4 487.2 L138.1 484.2 L138.6 478.9 L139.2 481.1 L139.7 476.1 L140.4 463.4 L141.1 452.3 L141.8 445.3 L142.5 444.2 L143.0 444.0 L143.6 451.8 L144.1 452.3 L144.6 451.2 L145.1 455.4 L145.6 454.5 L146.1 456.3 L146.6 452.4 L147.1 453.2 L147.6 449.1 L148.1 448.3 L148.8 442.0 L149.5 438.2 L150.0 435.0 L150.6 435.3 L151.1 431.2 L151.6 436.0 L152.1 444.2 L152.7 448.6 L153.2 460.2 L153.8 465.3 L154.5 454.1 L155.2 447.3 L155.7 448.0 L156.2 454.7 L156.8 453.3 L157.3 459.1 L157.8 460.3 L158.5 455.3 L159.2 456.3 L159.7 452.9 L160.2 458.1 L160.7 452.7 L161.1 456.0 L161.6 452.9 L162.1 455.1 L162.6 453.3 L163.1 454.1 L163.6 459.3 L164.1 456.9 L164.6 460.3 L165.1 459.6 L165.6 465.9 L166.2 463.4 L166.7 471.0 L167.2 470.3 L167.7 468.3 L168.2 469.0 L168.7 463.8 L169.2 465.3 L169.7 465.2 L170.2 471.8 L170.7 468.9 L171.2 472.3 L171.7 472.9 L172.2 477.5 L172.7 474.3 L173.2 479.7 L173.7 478.9 L174.2 481.4 L174.7 481.2 L175.2 486.8 L175.7 482.7 L176.2 486.4 L176.7 488.1 L177.2 493.2 L177.7 493.7 L178.2 497.4 L178.7 496.5 L179.2 499.9 L179.7 496.3 L180.2 497.4 L180.7 487.4 L181.2 481.4 L181.7 478.4 L182.2 480.1 L182.8 475.3 L183.3 476.4 L183.8 474.7 L184.3 477.3 L184.8 473.5 L185.3 475.5 L185.8 472.0 L186.3 473.9 L186.8 469.0 L187.3 471.3 L187.8 469.8 L188.3 474.8 L188.8 471.6 L189.3 475.4 L189.8 475.7 L190.3 480.0 L190.8 477.2 L191.3 481.4 L191.8 478.0 L192.3 479.9 L192.8 474.7 L193.3 476.4 L193.8 477.2 L194.3 481.7 L194.8 479.9 L195.3 485.9 L195.8 485.0 L196.3 488.4 L196.8 489.5 L197.4 493.4 L197.9 494.4 L198.6 488.8 L199.3 487.4 L199.8 488.4 L200.3 494.0 L200.8 492.6 L201.3 496.4 L202.0 498.6 L202.7 504.4 L203.2 499.0 L203.7 501.2 L204.2 494.9 L204.7 494.4 L205.2 487.7 L205.8 487.6 L206.3 482.4 L206.8 477.3 L207.3 477.1 L207.8 467.7 L208.3 466.3 L208.8 459.7 L209.4 456.8 L209.9 450.3 L210.4 447.3 L210.9 452.0 L211.4 447.3 L211.9 450.8 L212.4 447.3 L212.9 442.9 L213.5 446.0 L214.0 442.2 L214.7 446.6 L215.4 454.3 L215.9 448.3 L216.4 444.2 L216.9 442.4 L217.4 445.1 L217.9 439.9 L218.4 440.2 L218.9 434.9 L219.4 435.5 L219.9 428.6 L220.4 428.2 L220.9 422.1 L221.4 421.6 L221.9 415.0 L222.4 412.1 L222.9 406.7 L223.4 407.0 L223.9 401.8 L224.4 400.1 L224.9 394.6 L225.4 393.1 L225.9 391.9 L226.4 398.2 L226.9 396.2 L227.4 399.1 L228.1 388.7 L228.8 384.0 L229.3 374.8 L229.9 368.8 L230.4 360.0 L230.9 363.8 L231.4 370.4 L231.9 369.5 L232.4 373.0 L232.9 371.8 L233.4 375.3 L233.9 372.5 L234.4 375.4 L234.9 372.5 L235.4 373.3 L235.9 367.1 L236.4 371.0 L236.9 364.0 L237.4 364.4 L237.9 363.1 L238.4 368.5 L238.9 366.3 L239.4 369.2 L239.9 368.6 L240.4 370.4 L240.9 367.9 L241.4 373.4 L241.9 368.5 L242.5 372.5 L243.0 369.9 L243.5 372.4 L244.0 367.2 L244.5 368.1 L245.0 360.9 L245.5 362.0 L246.0 354.7 L246.5 352.3 L247.0 347.7 L247.5 349.4 L248.0 341.5 L248.5 344.0 L249.0 336.6 L249.5 336.3 L250.0 333.1 L250.5 337.8 L251.0 332.8 L251.5 335.9 L252.0 330.2 L252.5 332.3 L253.0 331.6 L253.6 338.0 L254.1 338.3 L254.6 331.0 L255.1 331.4 L255.5 321.8 L256.0 321.2 L256.5 314.2 L257.0 310.6 L257.5 312.3 L258.0 306.1 L258.5 307.1 L259.0 302.0 L259.5 302.2 L260.0 300.0 L260.5 306.6 L261.0 302.3 L261.5 307.2 L262.0 304.0 L262.5 307.2 L263.0 305.1 L263.5 308.9 L264.0 304.6 L264.5 308.1 L265.0 304.8 L265.5 308.0 L266.0 305.1 L266.5 307.2 L267.0 302.1 L267.5 302.0 L268.0 295.1 L268.5 294.2 L269.2 314.4 L269.9 338.3 L270.5 330.8 L271.0 330.4 L271.6 322.2 L272.3 325.9 L273.0 332.3 L273.5 328.2 L274.0 327.1 L274.5 320.1 L275.1 320.3 L275.6 314.7 L276.1 315.3 L276.6 309.2 L277.1 307.8 L277.6 312.6 L278.1 308.9 L278.6 314.0 L279.1 311.1 L279.6 314.2 L280.1 313.0 L280.6 315.9 L281.1 311.6 L281.6 314.2 L282.1 316.4 L282.6 327.0 L283.1 327.7 L283.6 334.3 L284.1 329.9 L284.6 331.1 L285.1 326.2 L285.6 326.8 L286.1 319.9 L286.6 320.2 L287.1 317.3 L287.6 322.0 L288.1 316.5 L288.7 320.4 L289.2 317.6 L289.7 320.2 L290.2 318.2 L290.7 318.3 L291.2 322.3 L291.7 320.8 L292.1 326.1 L292.6 323.6 L293.1 328.3 L293.6 328.3 L294.1 328.0 L294.6 335.9 L295.1 333.5 L295.6 338.6 L296.1 339.1 L296.6 342.3 L297.1 334.6 L297.6 332.3 L298.1 331.1 L298.6 334.0 L299.1 329.3 L299.6 332.4 L300.1 328.1 L300.6 330.3 L301.1 326.5 L301.6 325.3 L302.2 319.5 L302.7 318.2 L303.2 316.4 L303.7 318.8 L304.2 313.9 L304.7 315.3 L305.2 312.3 L305.7 312.2 L306.2 308.0 L306.7 310.0 L307.2 304.0 L307.7 304.2 L308.2 296.0 L308.7 294.7 L309.2 283.2 L309.7 280.1 L310.2 276.1 L310.8 278.0 L311.3 275.1 L312.0 275.8 L312.7 280.1 L313.2 274.4 L313.7 271.8 L314.2 264.7 L314.7 262.0 L315.2 255.1 L315.7 254.2 L316.2 247.1 L316.7 244.0 L317.2 238.9 L317.7 239.1 L318.3 231.2 L318.8 231.7 L319.3 225.9 L319.8 224.7 L320.3 230.1 L320.7 227.3 L321.2 233.9 L321.7 232.4 L322.2 234.9 L322.7 242.0 L323.3 240.2 L323.8 247.0 L324.3 249.4 L324.8 244.4 L325.3 245.1 L325.8 236.9 L326.3 236.4 L326.8 236.4 L327.3 241.6 L327.7 238.5 L328.2 245.3 L328.7 244.4 L329.2 238.5 L329.7 240.2 L330.2 233.2 L330.7 232.4 L331.2 232.4 L331.7 237.1 L332.2 233.3 L332.8 239.3 L333.3 235.9 L333.8 239.4 L334.3 237.8 L334.8 241.4 L335.3 235.3 L335.8 240.8 L336.3 235.6 L336.8 239.7 L337.3 235.3 L337.8 236.4 L338.3 231.0 L338.8 233.9 L339.3 227.1 L339.8 226.0 L340.4 223.6 L340.9 224.7 L341.4 219.5 L342.0 220.0 L342.5 215.7 L343.0 218.2 L343.5 213.7 L344.0 215.2 L344.5 209.9 L345.0 209.0 L345.5 207.5 L346.0 212.2 L346.5 210.5 L347.0 215.6 L347.5 213.0 L348.0 215.1 L348.5 214.2 L349.0 217.3 L349.5 213.2 L350.0 217.5 L350.5 214.4 L351.0 216.1 L351.5 218.7 L352.0 225.1 L352.5 222.1 L353.0 223.5 L353.5 219.2 L354.0 218.1 L354.6 219.6 L355.1 224.1 L355.7 225.1 L356.2 221.7 L356.7 221.7 L357.2 216.1 L357.7 215.1 L358.4 218.8 L359.1 225.1 L359.6 225.7 L360.1 231.2 L360.7 231.3 L361.2 235.8 L361.7 237.1 L362.2 233.8 L362.7 236.0 L363.2 231.8 L363.7 231.1 L364.2 228.7 L364.7 231.9 L365.1 228.0 L365.6 230.1 L366.1 228.1 L366.6 226.5 L367.1 227.8 L367.5 224.4 L368.0 226.3 L368.5 224.1 L369.0 225.9 L369.6 230.7 L370.1 231.1 L370.6 230.1 L371.1 232.7 L371.6 230.1 L372.1 232.1 L372.6 233.8 L373.1 239.4 L373.6 239.6 L374.1 244.2 L374.6 242.8 L375.1 243.9 L375.5 240.7 L376.0 242.9 L376.5 240.2 L377.0 239.1 L377.5 242.6 L378.0 241.2 L378.5 243.2 L379.0 247.8 L379.6 255.0 L380.1 259.2 L380.6 259.5 L381.1 265.1 L381.6 264.0 L382.1 267.2 L382.6 265.4 L383.1 266.4 L383.6 263.4 L384.1 265.9 L384.6 263.2 L385.1 259.8 L385.7 259.5 L386.2 255.2 L386.7 254.2 L387.2 255.0 L387.7 252.9 L388.2 253.2 L388.7 255.0 L389.3 260.8 L389.8 263.2 L390.5 260.7 L391.2 260.2 L391.7 260.6 L392.2 264.6 L392.7 264.2 L393.2 268.3 L393.7 268.2 L394.2 271.3 L394.7 269.1 L395.2 269.5 L395.7 266.2 L396.2 266.2 L396.9 263.0 L397.6 262.2 L398.1 263.5 L398.7 268.1 L399.2 269.3 L399.7 268.7 L400.2 271.5 L400.7 270.6 L401.1 273.6 L401.6 271.4 L402.1 274.9 L402.6 274.3 L403.1 271.1 L403.6 272.9 L404.2 268.3 L404.7 269.5 L405.2 267.2 L405.7 264.8 L406.2 267.2 L406.7 262.8 L407.2 264.8 L407.7 262.1 L408.2 262.2 L408.7 257.8 L409.2 258.0 L409.7 252.7 L410.2 252.2 L410.7 248.5 L411.2 249.2 L411.7 245.8 L412.2 244.8 L412.7 245.6 L413.2 250.4 L413.8 251.2 L414.3 254.2 L414.8 254.2 L415.3 258.8 L415.8 257.8 L416.3 261.2 L416.8 260.0 L417.3 261.3 L417.8 258.2 L418.3 259.7 L418.8 257.9 L419.3 258.2 L419.8 257.4 L420.3 261.6 L420.8 258.5 L421.3 261.2 L421.8 261.5 L422.3 264.5 L422.8 262.6 L423.3 266.5 L423.8 264.7 L424.3 267.2 L424.8 266.7 L425.3 268.3 L425.8 267.3 L426.3 268.2 L426.8 270.4 L427.3 275.1 L427.8 275.3 L428.3 279.3 L428.8 282.9 L429.3 289.3 L429.8 296.6 L430.3 305.4 L430.8 298.6 L431.3 293.3 L431.8 294.0 L432.3 298.1 L432.8 295.9 L433.3 299.4 L433.8 298.3 L434.3 301.6 L434.9 301.2 L435.4 304.5 L435.9 303.4 L436.6 305.2 L437.3 309.4 L437.8 305.3 L438.3 304.4 L438.8 305.7 L439.3 310.1 L439.8 309.9 L440.3 313.4 L440.8 312.3 L441.3 314.8 L441.8 312.9 L442.3 313.4 L442.8 315.5 L443.2 322.5 L443.7 323.6 L444.2 328.0 L444.8 325.1 L445.3 326.1 L445.8 321.6 L446.4 321.0 L446.9 318.6 L447.3 318.5 L447.8 314.9 L448.3 315.1 L448.8 311.1 L449.2 313.0 L449.7 309.7 L450.2 310.7 L450.7 316.6 L451.2 316.0 L451.7 320.0 L452.4 320.5 L453.0 323.2 L453.5 319.7 L454.1 320.3 L454.6 314.9 L455.1 314.8 L455.7 314.4 L456.2 318.3 L456.8 316.8 L457.4 320.0 L457.9 316.2 L458.4 317.2 L458.9 311.6 L459.4 312.2 L459.9 307.1 L460.4 306.7 L460.9 306.5 L461.4 311.4 L461.8 309.8 L462.3 314.7 L462.8 314.7 L463.3 312.3 L463.8 313.7 L464.4 310.2 L464.9 310.5 L465.4 308.2 L465.9 307.7 L466.4 310.0 L466.9 309.2 L467.4 312.3 L467.9 310.1 L468.4 312.2 L468.9 310.1 L469.5 311.5 L470.0 306.8 L470.5 308.0 L471.1 304.2 L471.6 304.4 L472.2 304.7 L472.7 309.1 L473.2 308.4 L473.8 311.2 L474.4 311.1 L474.9 316.4 L475.4 315.3 L476.0 318.7 L476.6 318.4 L477.1 323.3 L477.7 322.1 L478.2 325.3 L478.8 325.2 L479.3 323.6 L479.9 326.1 L480.4 324.1 L480.9 325.7 L481.4 324.3 L482.0 326.2 L482.5 325.1 L483.1 322.6 L483.6 322.3 L484.2 317.7 L484.8 317.7 L485.3 317.5 L485.9 321.1 L486.4 319.0 L487.0 323.4 L487.5 323.1 L488.0 321.9 L488.5 326.1 L489.0 323.6 L489.5 326.1 L490.0 324.8 L490.5 326.2 L491.0 322.5 L491.5 324.0 L492.0 320.9 L492.5 322.1 L493.0 321.4 L493.5 323.3 L494.0 321.4 L494.5 323.4 L495.0 320.7 L495.5 322.8 L496.0 320.3 L496.5 322.2 L497.0 321.7 L497.5 324.8 L498.0 322.8 L498.5 325.8 L499.0 324.5 L499.5 326.1 L500.0 325.3 L500.5 328.9 L501.0 327.3 L501.5 330.5 L502.0 328.7 L502.5 330.9 L503.0 331.1 L503.5 330.0 L504.0 331.2 L504.5 329.6 L505.0 330.1 L505.5 326.5 L506.1 327.2 L506.6 324.1 L507.1 321.2 L507.6 323.6 L508.1 320.4 L508.6 321.9 L509.1 316.9 L509.6 317.8 L510.1 321.3 L510.6 326.1 L511.1 336.3 L511.6 350.2 L512.2 368.2 L512.7 367.9 L513.2 371.0 L513.6 368.6 L514.1 372.3 L514.6 372.2 L515.1 372.7 L515.6 377.7 L516.1 375.9 L516.6 379.3 L517.1 375.8 L517.6 376.7 L518.1 370.7 L518.6 370.2 L519.1 369.3 L519.6 371.9 L520.1 370.7 L520.6 372.2 L521.1 371.0 L521.6 372.0 L522.0 370.6 L522.5 371.5 L523.0 370.2 L523.5 370.3 L524.0 372.2 L524.6 370.9 L525.1 373.4 L525.6 373.2 L526.1 371.8 L526.6 372.7 L527.1 370.2 L527.6 370.2 L528.1 370.8 L528.6 374.7 L529.1 374.1 L529.6 377.3 L530.1 376.8 L530.6 380.1 L531.2 379.2 L531.7 381.1 L532.2 380.2 L532.7 382.3 L533.2 385.1 L533.7 390.3 L534.2 388.3 L534.7 389.0 L535.2 386.7 L535.7 386.3 L536.2 379.2 L536.7 374.3 L537.2 372.8 L537.7 374.2 L538.2 371.7 L538.7 372.2 L539.2 366.1 L539.7 362.7 L540.2 356.6 L540.7 352.2 L541.2 344.8 L541.7 340.1 L542.2 338.0 L542.7 339.9 L543.2 337.5 L543.7 337.1 L544.2 338.7 L544.7 341.1 L545.2 339.6 L545.7 340.2 L546.2 337.6 L546.7 338.2 L547.2 336.0 L547.7 336.1 L548.2 336.5 L548.7 338.2 L549.2 337.5 L549.7 340.4 L550.2 339.3 L550.7 341.1 L551.2 341.7 L551.7 344.7 L552.2 344.6 L552.7 347.2 L553.2 346.7 L553.7 349.2 L554.2 346.4 L554.7 346.6 L555.2 344.1 L555.7 343.1 L556.2 340.5 L556.7 341.3 L557.3 337.7 L557.8 338.1 L558.3 336.1 L558.8 336.7 L559.3 339.5 L559.8 339.1 L560.3 342.4 L560.8 343.1 L561.3 342.9 L561.8 346.2 L562.3 345.0 L562.8 347.4 L563.3 346.2 L563.8 348.2 L564.3 349.4 L564.8 354.0 L565.3 355.0 L565.8 358.2 L566.3 355.7 L566.8 355.5 L567.3 351.8 L567.8 350.2 L568.3 349.1 L568.8 349.8 L569.3 347.3 L569.8 348.6 L570.3 346.2 L570.8 346.2 L571.3 345.8 L571.9 348.1 L572.5 347.9 L573.0 349.2 L573.5 348.0 L574.0 349.3 L574.5 348.0 L575.0 349.6 L575.5 347.3 L576.0 348.2 L576.5 347.9 L577.0 349.4 L577.5 348.5 L578.0 350.6 L578.5 349.1 L579.0 350.2 L579.5 348.0 L580.0 347.7 L580.5 343.9 L581.0 343.1 L581.5 339.8 L582.0 339.1 L582.5 337.8 L583.0 340.4 L583.5 338.3 L584.0 339.1 L584.6 340.6 L585.1 345.2 L585.7 347.2 L586.2 345.9 L586.7 346.8 L587.2 344.1 L587.6 346.1 L588.1 343.7 L588.6 344.4 L589.1 343.1 L589.6 342.7 L590.1 344.5 L590.6 343.4 L591.1 345.3 L591.6 344.3 L592.1 345.2 L592.6 344.9 L593.1 347.7 L593.6 346.3 L594.1 349.1 L594.6 347.6 L595.1 349.2 L595.6 348.4 L596.1 349.8 L596.6 347.2 L597.1 348.2 L597.6 348.2 L598.1 349.9 L598.6 349.3 L599.1 351.8 L599.6 350.6 L600.1 352.2 L600.6 350.2 L601.1 351.9 L601.6 349.0 L602.1 350.0 L602.6 347.9 L603.1 348.2 L603.6 346.8 L604.1 348.1 L604.6 347.0 L605.1 347.2 L605.6 348.6 L606.1 353.5 L606.6 354.3 L607.1 357.2 L607.6 358.9 L608.1 363.2 L608.6 364.3 L609.1 368.2 L609.6 365.9 L610.1 366.3 L610.6 363.9 L611.1 363.2 L611.6 361.0 L612.1 362.1 L612.6 359.0 L613.1 359.2 L613.6 359.2 L614.2 361.4 L614.7 360.1 L615.2 362.2 L615.7 359.1 L616.2 359.1 L616.7 355.3 L617.2 354.2 L617.7 352.8 L618.2 354.8 L618.7 352.1 L619.2 353.2 L619.7 350.4 L620.2 350.4 L620.7 346.1 L621.2 345.2 L621.7 341.5 L622.2 341.6 L622.8 336.7 L623.3 336.8 L623.8 333.1 L624.3 332.5 L624.8 335.7 L625.2 334.6 L625.7 337.4 L626.2 337.1 L626.7 336.9 L627.2 339.9 L627.7 339.3 L628.2 341.1 L628.7 340.1 L629.2 341.2 L629.7 338.2 L630.2 339.1 L630.7 339.2 L631.2 341.2 L631.6 340.9 L632.1 343.1 L632.6 343.1 L633.1 341.6 L633.6 342.9 L634.2 340.3 L634.7 340.6 L635.2 339.1 L635.7 338.6 L636.2 340.1 L636.7 337.9 L637.2 339.1 L637.7 340.6 L638.2 343.6 L638.7 344.3 L639.2 347.2 L639.7 346.4 L640.2 348.8 L640.7 347.3 L641.2 348.3 L641.7 347.5 L642.2 348.2 L642.7 348.1 L643.2 349.8 L643.8 348.6 L644.3 351.2 L644.8 350.1 L645.3 351.2 L645.8 350.7 L646.3 351.8 L646.8 350.7 L647.3 351.2 L647.8 351.1 L648.3 353.9 L648.9 353.3 L649.4 356.4 L649.9 356.2 L650.4 354.7 L650.9 355.6 L651.3 353.1 L651.8 355.1 L652.3 353.2 L652.8 352.5 L653.3 354.1 L653.8 351.8 L654.3 354.1 L654.8 352.6 L655.3 353.2 L655.8 352.3 L656.3 353.5 L656.8 350.5 L657.3 351.2 L657.8 348.2 L658.3 347.6 L658.8 343.5 L659.3 342.1 L659.8 341.7 L660.3 344.0 L660.8 341.8 L661.3 343.1 L661.8 343.1 L662.3 344.7 L662.9 344.1 L663.4 346.3 L663.9 346.2 L664.4 343.5 L664.9 344.2 L665.4 340.6 L665.9 340.1 L666.6 336.0 L667.3 333.0 L667.8 329.9 L668.4 328.4 L668.9 325.1 L669.4 324.2 L669.9 325.9 L670.4 323.5 L670.9 324.1 L671.5 319.1 L672.0 317.6 L672.6 312.2 L673.1 310.7 L673.6 311.3 L674.0 309.0 L674.5 309.8 L675.0 307.7 L675.5 302.9 L676.1 300.0 L676.6 294.3 L677.2 290.1 L677.8 289.5 L678.4 285.3 L678.9 286.9 L679.5 289.9 L680.0 291.3 L680.7 293.2 L681.4 297.3 L681.9 295.8 L682.4 296.2 L683.0 293.5 L683.5 294.7 L684.0 292.3 L684.5 290.5 L685.0 292.0 L685.4 289.2 L685.9 290.3 L686.4 288.3 L686.9 286.5 L687.4 287.6 L687.8 284.9 L688.3 285.5 L688.8 283.3 L689.4 278.3 L689.9 278.2 L690.4 280.2 L690.9 278.9 L691.4 280.8 L691.9 279.6 L692.4 281.3 L692.9 279.4 L693.4 279.5 L693.9 277.1 L694.4 276.3 L694.9 267.6 L695.4 260.2 L695.9 254.9 L696.4 251.2 L696.9 252.1 L697.4 255.9 L697.9 256.1 L698.4 259.2 L698.9 258.2 L699.4 259.0 L699.9 256.9 L700.4 257.2 L700.9 258.1 L701.4 262.9 L701.9 262.9 L702.4 266.2 L702.9 264.6 L703.5 264.4 L704.0 261.4 L704.5 261.2 L705.0 260.6 L705.5 262.1 L705.9 260.4 L706.4 261.6 L706.9 261.2 L707.4 261.5 L708.0 265.7 L708.5 266.2 L709.0 267.3 L709.6 270.5 L710.1 271.2 L710.6 268.7 L711.1 268.3 L711.5 264.9 L712.0 264.7 L712.5 262.2 L713.0 261.8 L713.5 263.6 L714.0 262.1 L714.5 264.2 L715.0 263.3 L715.5 264.2 L716.0 261.6 L716.5 261.9 L717.0 258.4 L717.5 258.2 L718.0 256.3 L718.5 257.3 L719.1 254.5 L719.6 255.4 L720.1 253.2 L720.6 253.6 L721.1 255.3 L721.5 255.2 L722.0 257.5 L722.5 257.2 L723.0 257.4 L723.5 260.2 L724.0 260.2 L724.5 262.2 L725.0 258.2 L725.5 257.6 L725.9 253.4 L726.4 251.6 L726.9 248.2 L727.4 247.1 L727.9 247.5 L728.5 245.6 L729.0 246.2 L729.5 245.2 L730.0 242.1 L730.5 242.4 L731.0 239.0 L731.5 238.1 L732.0 234.8 L732.5 234.8 L733.1 230.1 L733.6 229.1 L734.3 225.0 L735.0 222.5 L735.5 224.3 L736.1 228.3 L736.6 230.1 L737.1 228.7 L737.6 228.9 L738.1 226.0 L738.6 226.1 L739.1 224.0 L739.6 225.8 L740.0 222.9 L740.5 224.2 L741.0 222.5 L741.5 224.3 L742.1 227.6 L742.6 229.1 L743.1 229.1 L743.6 231.5 L744.1 230.6 L744.6 232.5 L745.1 231.5 L745.6 233.1 L746.1 235.2 L746.6 240.9 L747.1 241.9 L747.6 246.2 L748.1 243.7 L748.6 243.3 L749.1 238.8 L749.6 238.1 L750.1 236.9 L750.6 238.3 L751.1 236.5 L751.6 237.1 L752.1 238.5 L752.6 241.9 L753.1 241.3 L753.6 245.4 L754.1 245.2 L754.6 248.2 L755.1 244.9 L755.6 244.7 L756.1 240.8 L756.6 240.1 L757.1 239.3 L757.6 241.0 L758.1 240.2 L758.6 241.4 L759.1 240.0 L759.6 241.1 L760.1 237.8 L760.6 237.3 L761.1 233.0 L761.6 232.1 L762.2 229.7 L762.7 229.6 L763.3 227.1 L763.8 227.4 L764.3 230.1 L764.7 229.0 L765.2 231.6 L765.7 231.1 L766.2 230.5 L766.7 232.7 L767.2 231.2 L767.7 233.1 L768.2 231.5 L768.7 233.1 L769.2 231.2 L769.7 233.3 L770.2 230.6 L770.7 231.1 L771.2 231.8 L771.7 234.7 L772.1 234.0 L772.6 237.2 L773.1 237.1 L773.6 237.5 L774.1 240.1 L774.7 238.9 L775.2 241.6 L775.7 242.1 L776.2 242.2 L776.7 244.6 L777.2 244.8 L777.7 246.7 L778.2 245.8 L778.7 248.2 L779.2 245.1 L779.7 245.7 L780.2 242.2 L780.7 241.1 L781.2 239.4 L781.8 240.9 L782.3 239.1 L782.8 240.4 L783.3 244.1 L783.8 244.0 L784.3 247.2 L784.8 246.0 L785.3 246.1 L785.7 243.9 L786.2 244.4 L786.7 243.1 L787.2 241.1 L787.7 241.5 L788.2 238.8 L788.7 238.1 L789.2 235.2 L789.7 234.7 L790.1 231.2 L790.6 230.8 L791.1 228.1 L791.6 227.1 L792.2 228.5 L792.7 227.0 L793.2 228.6 L793.7 226.7 L794.3 229.1 L794.8 228.1 L795.3 229.3 L795.8 232.9 L796.3 233.1 L796.8 236.1 L797.3 238.7 L797.9 244.6 L798.4 247.2 L799.1 240.0 L799.8 235.1 L800.3 236.0 L800.9 240.0 L801.5 239.2 L802.0 242.2 L802.5 241.0 L803.0 243.0 L803.5 241.4 L804.0 243.1 L804.5 240.9 L805.0 242.2 L805.5 239.5 L806.0 239.6 L806.5 236.1 L807.0 235.2 L807.5 236.2 L808.0 240.4 L808.5 241.5 L809.0 244.2 L809.5 243.9 L810.0 247.2 L810.5 245.6 L811.0 248.5 L811.5 247.2 L812.0 249.2 L812.5 247.9 L813.0 248.8 L813.5 246.8 L814.1 247.0 L814.6 245.0 L815.1 245.2 L815.6 244.3 L816.1 246.0 L816.7 244.8 L817.2 246.3 L817.7 245.2 L818.2 242.8 L818.7 242.8 L819.2 240.0 L819.7 239.2 L820.3 237.8 L820.8 238.6 L821.4 237.0 L821.9 238.1 L822.5 236.2 L823.0 236.8 L823.5 241.2 L824.0 240.9 L824.5 244.2 L825.0 243.0 L825.5 244.6 L826.1 242.4 L826.6 243.7 L827.1 242.2 L827.6 240.6 L828.1 242.2 L828.6 239.7 L829.1 240.7 L829.6 238.4 L830.1 238.2 L830.6 236.5 L831.1 238.0 L831.6 235.6 L832.1 235.2 L832.6 233.6 L833.1 233.9 L833.5 231.5 L834.0 231.6 L834.5 230.2 L835.0 228.7 L835.6 230.9 L836.2 228.7 L836.7 229.2 L837.2 230.0 L837.7 233.2 L838.2 233.3 L838.7 235.2 L839.2 232.3 L839.7 231.5 L840.2 227.0 L840.7 225.2 L841.3 222.0 L841.9 221.8 L842.5 218.1 L843.0 216.5 L843.5 218.4 L844.1 216.8 L844.6 217.1 L845.1 215.0 L845.6 215.5 L846.2 211.4 L846.7 211.7 L847.2 209.7 L847.7 209.2 L848.2 211.8 L848.8 210.9 L849.3 213.0 L849.8 213.1 L850.4 212.0 L850.9 214.9 L851.5 213.1 L852.0 214.9 L852.6 214.1 L853.1 214.3 L853.6 216.9 L854.1 215.9 L854.6 217.1 L855.1 216.6 L855.6 218.2 L856.2 216.4 L856.7 218.4 L857.2 217.1 L857.7 217.1 L858.2 220.7 L858.7 220.4 L859.2 222.1 L859.7 222.5 L860.2 226.5 L860.7 225.9 L861.2 228.2 L861.7 227.4 L862.2 228.0 L862.8 226.3 L863.3 227.7 L863.8 226.2 L864.3 224.2 L864.8 223.9 L865.2 221.3 L865.7 221.6 L866.2 219.1 L866.7 219.5 L867.2 223.1 L867.8 222.9 L868.3 226.9 L868.8 227.2 L869.3 226.2 L869.8 227.8 L870.3 226.5 L870.8 227.2 L871.5 220.3 L872.2 216.1 L872.7 212.5 L873.3 211.7 L873.8 208.5 L874.3 207.7 L874.8 209.4 L875.3 207.8 L875.8 210.3 L876.3 209.7 L876.8 210.4 L877.3 213.8 L877.8 214.1 L878.3 216.1 L878.8 216.5 L879.3 219.5 L879.7 219.7 L880.2 222.9 L880.7 223.1 L881.2 222.8 L881.7 224.0 L882.2 222.4 L882.7 223.7 L883.2 223.0 L883.7 224.1 L884.3 222.4 L884.8 223.8 L885.3 223.1 L885.8 223.6 L886.3 228.0 L886.8 228.0 L887.3 230.2 L887.8 230.4 L888.3 233.3 L888.8 232.4 L889.3 234.2 L890.0 237.9 L890.7 244.2 L891.2 238.3 L891.8 234.7 L892.3 229.2 L892.8 234.8 L893.3 242.2 L893.8 243.2 L894.3 246.9 L894.9 247.2 L895.4 251.4 L895.9 252.2 L896.4 250.1 L896.9 250.6 L897.4 247.2 L897.9 247.2 L898.4 245.9 L898.9 247.7 L899.3 245.3 L899.8 246.9 L900.3 246.2 L900.8 244.2 L901.3 245.1 L901.7 242.8 L902.2 243.6 L902.7 242.2 L903.2 242.9 L903.8 246.4 L904.3 245.5 L904.8 248.2 L905.3 247.8 L905.8 250.4 L906.4 249.7 L906.9 252.0 L907.4 252.2 L907.9 253.4 L908.5 257.4 L909.0 258.7 L909.6 255.1 L910.2 253.3 L910.8 249.2 L911.3 247.3 L911.8 248.6 L912.4 245.5 L912.9 246.5 L913.4 245.2 L913.9 243.4 L914.4 242.9 L915.0 240.4 L915.5 240.7 L916.0 238.6 L916.5 238.0 L917.0 239.6 L917.4 238.0 L917.9 239.8 L918.4 239.6 L918.9 238.4 L919.4 240.7 L919.9 239.0 L920.4 241.2 L920.9 239.5 L921.4 240.2 L921.9 237.7 L922.4 236.9 L922.9 233.8 L923.4 232.2 L923.9 230.5 L924.4 231.2 L924.9 228.3 L925.4 228.2 L925.9 228.3 L926.4 230.7 L926.9 230.0 L927.4 231.2 L927.9 229.7 L928.4 231.1 L928.9 229.6 L929.4 230.4 L929.9 228.5 L930.4 229.2 L930.9 229.0 L931.4 232.4 L931.9 231.8 L932.4 233.2 L932.9 233.4 L933.5 235.9 L934.0 235.6 L934.5 237.2 L935.0 236.3 L935.5 238.6 L936.0 237.8 L936.5 239.2 L937.0 236.7 L937.6 237.9 L938.1 235.2 L938.6 235.7 L939.1 238.0 L939.5 237.1 L940.0 239.6 L940.5 240.2 L941.0 240.6 L941.5 243.5 L941.9 242.7 L942.4 245.0 L942.9 245.2 L943.4 243.5 L943.9 244.0 L944.4 241.8 L944.9 241.2 L945.4 240.4 L945.9 241.8 L946.5 238.8 L947.0 240.7 L947.5 239.2 L948.0 238.4 L948.5 239.4 L949.1 237.7 L949.6 239.0 L950.1 238.2 L950.6 236.6 L951.1 237.9 L951.5 235.1 L952.0 235.7 L952.5 234.2 L953.0 231.8 L953.5 233.2 L953.9 230.8 L954.4 231.0 L954.9 229.2 L955.4 226.1 L956.0 225.5 L956.5 223.1 L957.0 223.7 L957.5 226.7 L958.0 225.7 L958.5 228.2 L959.0 228.4 L959.5 231.8 L960.0 230.9 L960.5 233.6 L961.0 232.8 L961.5 235.2 L962.0 233.6 L962.6 234.8 L963.1 232.2 L963.7 232.7 L964.2 231.2 L964.7 229.2 L965.2 229.3 L965.6 226.4 L966.1 226.1 L966.6 224.1 L967.1 224.5 L967.6 227.0 L968.0 226.5 L968.5 229.0 L969.0 229.2 L969.5 226.6 L970.0 227.8 L970.6 224.3 L971.1 224.9 L971.6 223.1 L972.1 221.9 L972.6 222.7 L973.2 220.8 L973.7 222.2 L974.2 221.1 L974.7 220.7 L975.2 221.9 L975.6 221.2 L976.1 222.5 L976.6 222.1 L977.1 219.9 L977.6 220.6 L978.0 216.8 L978.5 217.1 L979.0 215.1 L979.5 213.5 L980.1 213.9 L980.6 212.5 L981.1 211.1 L981.6 213.1 L982.0 211.1 L982.5 213.3 L983.0 212.1 L983.5 212.1 L984.1 215.1 L984.6 216.1 L985.1 218.4 L985.7 222.9 L986.2 225.2 L986.7 222.7 L987.2 222.4 L987.7 218.4 L988.2 217.1 L988.7 215.6 L989.2 217.3 L989.7 215.6 L990.2 215.7 L990.8 215.1 L991.4 216.6 L992.0 216.1 L992.6 220.1 L993.1 225.3 L993.7 229.2 L994.2 226.9 L994.7 227.0 L995.2 224.7 L995.7 224.1 L996.2 224.3 L996.7 227.1 L997.2 226.7 L997.7 228.2 L998.2 226.2 L998.7 227.0 L999.2 224.3 L999.7 224.5 L1000.2 223.9 L1000.7 225.8 L1001.1 225.1 L1001.6 226.7 L1002.1 226.5 L1002.6 225.6 L1003.1 227.7 L1003.6 227.1 L1004.1 235.8 L1004.7 235.6 L1005.2 236.9 L1005.8 234.1 L1006.4 233.8 L1007.1 235.0 L1007.8 237.4 L1008.3 240.1 L1008.8 244.1 L1009.3 244.1 L1009.8 246.1 L1010.3 246.2 L1011.0 247.1 L1011.6 248.8 L1012.2 246.1 L1012.9 244.1 L1013.5 241.8 L1014.0 241.5 L1014.5 242.8 L1015.0 247.2 L1015.5 248.2 L1016.0 243.5 L1016.5 241.5 L1017.0 241.7 L1017.6 244.3 L1018.1 244.1 L1018.6 242.9 L1019.1 244.9 L1019.7 243.3 L1020.2 245.5 L1020.7 244.6 L1021.2 244.1 L1021.7 247.6 L1022.2 247.2 L1022.8 248.0 L1023.4 250.9 L1024.0 251.3 L1024.7 250.1 L1025.3 249.8 L1025.9 249.5 L1026.5 251.6 L1027.1 251.3 L1027.6 250.5 L1028.1 251.3 L1028.5 249.4 L1029.0 250.6 L1029.5 249.3 L1030.0 247.3 L1030.5 247.0 L1031.0 245.1 L1031.5 243.7 L1032.1 244.6 L1032.6 243.1 L1033.1 242.6 L1033.6 244.1 L1034.1 243.1 L1034.6 242.0 L1035.0 242.5 L1035.5 240.8 L1036.0 241.0 L1036.6 240.5 L1037.1 242.2 L1037.7 242.0 L1038.2 243.9 L1038.8 247.7 L1039.3 247.1 L1039.8 249.7 L1040.3 249.3 L1040.8 249.0 L1041.3 250.8 L1041.9 249.9 L1042.6 249.8 L1043.4 255.5 L1044.2 260.6 L1045.0 259.6 L1045.5 261.9 L1046.0 265.8" fill="none" stroke="#000" stroke-width="2.0" stroke-linejoin="round" stroke-linecap="round"/>
<line x1="118.1" x2="118.1" y1="133.2" y2="535.4" stroke="#c874f1" stroke-width="2.2"/>
<line x1="1054" x2="1054" y1="133.3" y2="535.4" stroke="#2e2e2e" stroke-width="2"/>
<circle cx="37.9" cy="77.4" r="3.05" fill="#c366f0"/>
<circle cx="266.2" cy="77.4" r="3.05" fill="#000"/>
<use href="#lg" stroke="#1a1a1a"/>
</svg>
<div class="t" id="title" style="left:29.5px;top:29.1px;font-size:22px;letter-spacing:0.32px;color:#111;">SOL: Market Value to Realized Value Ratio (MVRV)</div>
<div class="t" id="lg1" style="left:43.6px;top:73.9px;font-size:8.9px;letter-spacing:-0.225px;color:#222;">SOL: Market Value to Realized Value Ratio (MVRV)</div>
<div class="t" id="lg2" style="left:272px;top:73.9px;font-size:8.9px;letter-spacing:-0.46px;color:#222;">SOL: Price [USD]</div>
<div class="t" id="foot" style="left:30.3px;top:616.5px;font-size:14.3px;letter-spacing:0.45px;word-spacing:0.8px;color:#8a8a8a;">© 2026 Glassnode. All Rights Reserved.</div>
</body></html>
